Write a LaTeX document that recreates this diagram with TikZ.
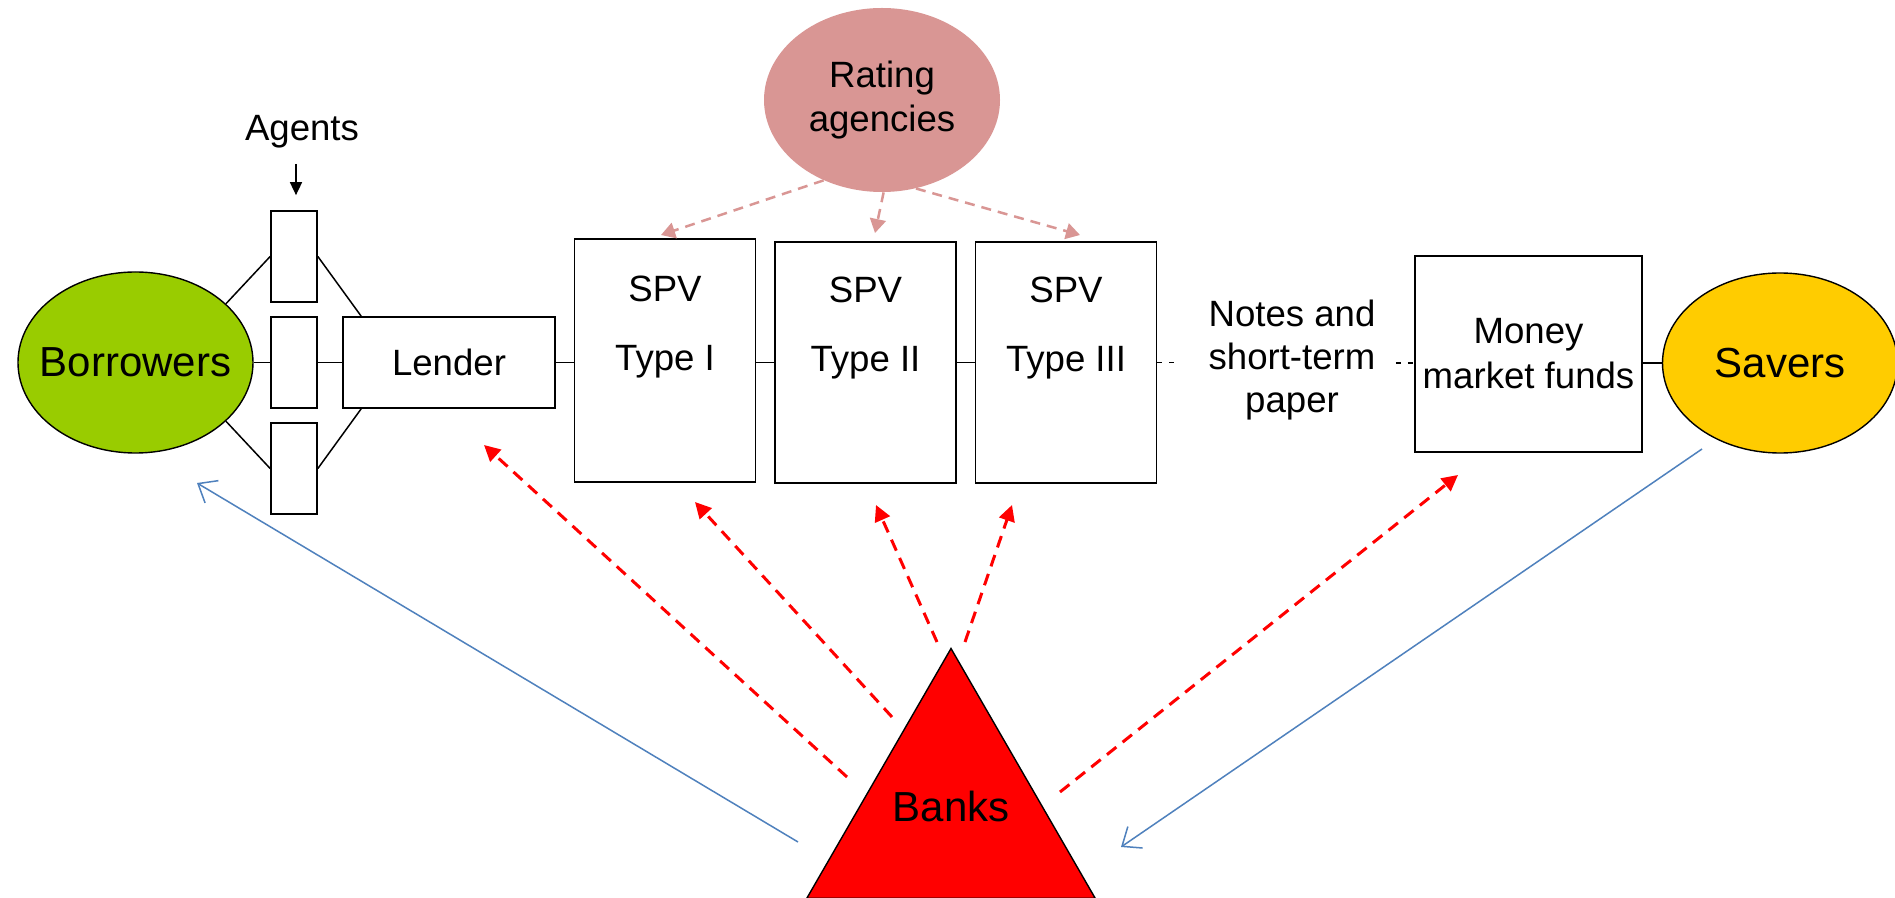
\documentclass[tikz,border=0pt]{standalone}
\usepackage{fontspec}
\setmainfont{Liberation Sans}
\usetikzlibrary{arrows.meta,shapes.geometric,calc}
\definecolor{bgreen}{HTML}{99CC00}
\definecolor{syellow}{HTML}{FFCC00}
\definecolor{rpink}{HTML}{D99694}
\definecolor{bred}{HTML}{FF0000}
\definecolor{lblue}{HTML}{4F81BD}
\begin{document}
\begin{tikzpicture}[x=0.5pt,y=-0.5pt,
  box/.style={draw=black, line width=0.85pt, fill=white, inner sep=0pt, align=center, font=\fontsize{18.3pt}{22.5pt}\selectfont},
  txt/.style={inner sep=0pt, align=center, font=\fontsize{18.3pt}{21.5pt}\selectfont},
  bigtxt/.style={font=\fontsize{21pt}{25pt}\selectfont},
  blob/.style={ellipse, draw=black, line width=0.7pt, inner sep=0pt, minimum width=117.5pt, minimum height=90.5pt},
  link/.style={draw=black, line width=0.75pt},
  sdash/.style={draw=black, line width=0.75pt, dash pattern=on 2.5pt off 3.5pt},
  redarrow/.style={draw=bred, line width=1.5pt, dash pattern=on 6pt off 4pt, -{Triangle[length=8pt,width=8pt]}},
  pinkarrow/.style={draw=rpink, line width=1.25pt, dash pattern=on 5pt off 3.5pt, -{Triangle[length=7pt,width=8pt]}},
  bluearrow/.style={draw=lblue, line width=0.75pt, -{Straight Barb[length=8pt,width=13pt]}},
  agentarrow/.style={draw=black, line width=0.8pt, -{Triangle[length=6.5pt,width=6pt]}}
]
\fill[white] (0,0) rectangle (1895,898);
\useasboundingbox (0,0) rectangle (1895,898);

% main nodes
\node[blob, fill=bgreen, label={[bigtxt]center:Borrowers}] (borrowers) at (135.5,362.5) {};
\node[blob, fill=syellow, minimum height=90pt, label={[bigtxt]center:Savers}] (savers) at (1780,363) {};
\node[ellipse, fill=rpink, inner sep=0pt, minimum width=118pt, minimum height=92pt, align=center, font=\fontsize{18.3pt}{22pt}\selectfont] (rating) at (882,100) {Rating\\agencies};

\node[box, minimum width=23pt, minimum height=45.5pt] (ag1) at (294,256.5) {};
\node[box, minimum width=23pt, minimum height=45.5pt] (ag2) at (294,362.5) {};
\node[box, minimum width=23pt, minimum height=45.5pt] (ag3) at (294,468.5) {};
\node[box, minimum width=106pt, minimum height=45.5pt] (lender) at (449,362.5) {Lender};

\node[box, minimum width=90.5pt, minimum height=121.5pt] (spv1) at (665,360.5) {};
\node[box, minimum width=90.5pt, minimum height=120.5pt] (spv2) at (865.5,362.5) {};
\node[box, minimum width=90.5pt, minimum height=120.5pt] (spv3) at (1066,362.5) {};
\node[txt, anchor=base] (spv1a) at (665,302) {SPV};
\node[txt, anchor=base] (spv1b) at (665,371) {Type I};
\node[txt, anchor=base] (spv2a) at (865.5,303) {SPV};
\node[txt, anchor=base] (spv2b) at (865.5,372) {Type II};
\node[txt, anchor=base] (spv3a) at (1066,303) {SPV};
\node[txt, anchor=base] (spv3b) at (1066,372) {Type III};

\node[txt] (notes) at (1292,360) {Notes and\\short-term\\paper};
\node[box, minimum width=113.5pt, minimum height=98pt] (mmf) at (1528.5,354) {Money\\market funds};

\node[regular polygon, regular polygon sides=3, draw=black, fill=bred, line width=0.7pt, minimum size=166.5pt, inner sep=0pt, label={[bigtxt, yshift=4.5pt]center:Banks}] (banks) at (951,815) {};

\node[txt, anchor=base] (agents) at (302,141) {Agents};
\coordinate (agtop) at (296,164);
\draw[agentarrow, shorten >=7.5pt] (agtop) -- (agtop |- ag1.north);

% agent links
\draw[link] (borrowers.33) -- (ag1.west);
\draw[link] (ag1.east) -- ($(lender.north west)+(19,0)$);
\draw[link] (borrowers.east) -- (ag2.west);
\draw[link] (ag2.east) -- (lender.west);
\draw[link] (borrowers.-33) -- (ag3.west);
\draw[link] (ag3.east) -- ($(lender.south west)+(19,0)$);

% chain
\draw[link] (lender.east) -- (lender.east -| spv1.west);
\draw[link] (spv1.east |- lender.east) -- (spv2.west |- lender.east);
\draw[link] (spv2.east) -- (spv3.west);
\draw[sdash, shorten >=14.5pt] (spv3.east) -- (spv3.east -| notes.west);
\draw[sdash, shorten <=10pt] (notes.east |- savers) -- (mmf.west |- savers);
\draw[link] (mmf.east |- savers) -- (savers.west);

% rating arrows
\coordinate (p1) at (661,235);
\coordinate (p2) at (875,233);
\coordinate (p3) at (1080,235);
\draw[pinkarrow] (rating.234) -- (p1);
\draw[pinkarrow] (rating.-89) -- (p2);
\draw[pinkarrow] (rating.-69) -- (p3);

% bank arrows
\coordinate (rL0) at (847,777);  \coordinate (rL1) at (484,445);
\coordinate (rA0) at (892,717);  \coordinate (rA1) at (695,502);
\coordinate (rB0) at (937,642);  \coordinate (rB1) at (876,505);
\coordinate (rC0) at (965,642);  \coordinate (rC1) at (1012,505);
\coordinate (rM0) at (1060,792); \coordinate (rM1) at (1458,475);
\draw[redarrow] (rL0) -- (rL1);
\draw[redarrow] (rA0) -- (rA1);
\draw[redarrow] (rB0) -- (rB1);
\draw[redarrow] (rC0) -- (rC1);
\draw[redarrow] (rM0) -- (rM1);

% blue flows
\coordinate (bB0) at (798,842); \coordinate (bB1) at (197,483);
\coordinate (bS0) at (1702,449); \coordinate (bS1) at (1121,847);
\draw[bluearrow] (bB0) -- (bB1);
\draw[bluearrow] (bS0) -- (bS1);
\end{tikzpicture}
\end{document}
